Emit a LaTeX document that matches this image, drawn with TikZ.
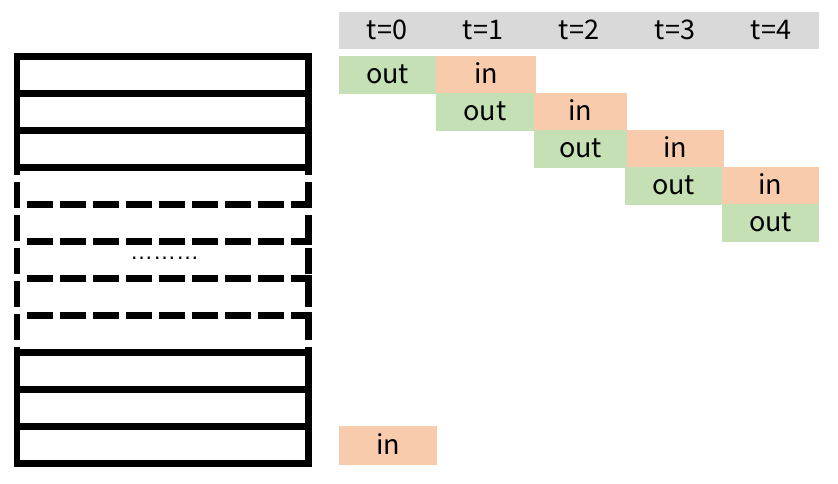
\documentclass[tikz,border=0pt]{standalone}
\usepackage{fontspec}
\setmainfont{Noto Sans CJK SC}
\newfontfamily\dotfont{Liberation Sans}
\definecolor{cgreen}{HTML}{C5E0B4}
\definecolor{corange}{HTML}{F8CBAD}
\definecolor{cgray}{HTML}{D9D9D9}
\begin{document}
\begin{tikzpicture}[x=1pt,y=-1pt,
  cell/.style={rectangle,inner sep=0pt,minimum height=37.5pt,text height=17pt,text depth=0pt,font=\fontsize{27}{30}\selectfont},
  outcell/.style={cell,fill=cgreen},
  incell/.style={cell,fill=corange},
  headcell/.style={cell,fill=cgray,minimum width=96pt},
  thick line/.style={line width=6.5pt,line cap=butt},
  dash line/.style={thick line,dash pattern=on 26pt off 7pt}]
\useasboundingbox (0,0) rectangle (838,483);
% header
\node[headcell] (h0) at (387,30.5) {t=0};
\node[headcell] (h1) at (483,30.5) {t=1};
\node[headcell] (h2) at (579,30.5) {t=2};
\node[headcell] (h3) at (675,30.5) {t=3};
\node[headcell] (h4) at (771,30.5) {t=4};
% row 1
\node[outcell,minimum width=97pt] (o0) at (387.5,75.2) {out};
\node[incell,minimum width=100pt] (i0) at (486,74.8) {in};
% row 2
\node[outcell,minimum width=98pt] (o1) at (485,112.2) {out};
\node[incell,minimum width=93pt] (i1) at (580.5,111.8) {in};
% row 3
\node[outcell,minimum width=93pt] (o2) at (580.5,149.2) {out};
\node[incell,minimum width=97pt] (i2) at (675.5,148.8) {in};
% row 4
\node[outcell,minimum width=97pt] (o3) at (673.5,186.2) {out};
\node[incell,minimum width=97pt] (i3) at (770.5,185.8) {in};
% row 5
\node[outcell,minimum width=97pt] (o4) at (770.5,223.2) {out};
% bottom in
\node[incell,minimum width=98pt,minimum height=39pt] (ib) at (388,445.5) {in};
% left stack: solid top part
\draw[thick line] (17,53.25) -- (17,175);
\draw[thick line] (308.5,53.25) -- (308.5,175);
\foreach \y in {56.5,93.5,130.5,167.5}
  \draw[thick line] (13.75,\y) -- (311.75,\y);
% dashed middle part
\draw[dash line] (17,182) -- (17,340);
\draw[dash line] (308.5,182) -- (308.5,340);
\foreach \y in {204.5,241.5,278.5,315.5}
  \draw[dash line] (27,\y) -- (311.75,\y);
% solid bottom part
\draw[thick line] (17,347) -- (17,466.75);
\draw[thick line] (308.5,347) -- (308.5,466.75);
\foreach \y in {352.5,389.5,426.5,463.5}
  \draw[thick line] (13.75,\y) -- (311.75,\y);
\node[font=\dotfont\fontsize{23}{26}\selectfont,inner sep=0pt,anchor=base] (dots) at (164.5,259) {………};
\end{tikzpicture}
\end{document}
